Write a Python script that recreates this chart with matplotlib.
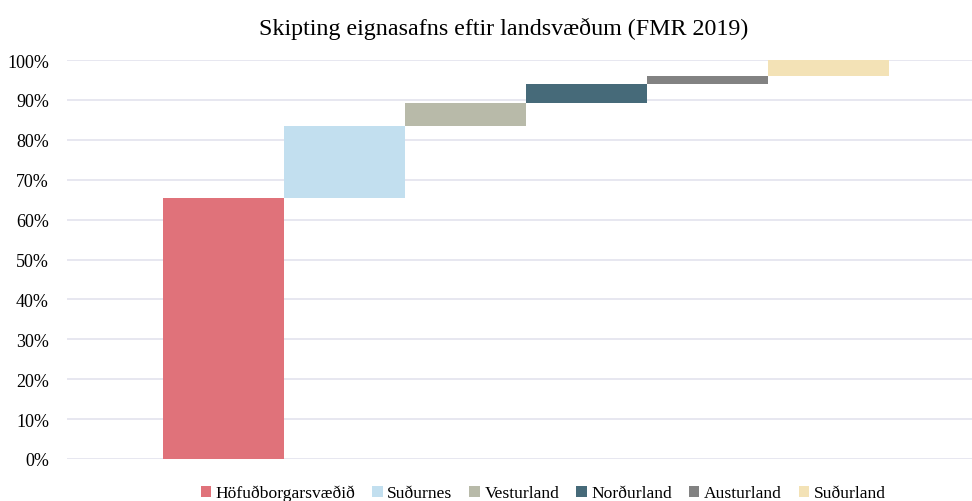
import numpy as np
import matplotlib.pyplot as plt

# Data
regions = ["Höfuðborgarsvæðið", "Suðurnes", "Vesturland", "Norðurland", "Austurland", "Suðurland"]
shares = [65.4, 18.0, 5.8, 4.8, 2.0, 4.0]
colors = ["#E0727A", "#C2DFEF", "#B8BAA9", "#466A79", "#828282", "#F3E2B6"]
yticks = [0, 10, 20, 30, 40, 50, 60, 70, 80, 90, 100]

plt.rcParams['font.family'] = ['Liberation Serif', 'DejaVu Serif']

vals = np.array(shares) / 100
bottoms = np.cumsum(vals) - vals
x = np.arange(len(regions))

fig = plt.figure(figsize=(9.72, 5.02), dpi=100)
ax = fig.add_axes([67 / 972, 1 - 460 / 502, (972 - 67) / 972, (460 - 61) / 502])

for i in range(len(regions)):
    ax.bar(x[i], vals[i], bottom=bottoms[i], width=1.0, color=colors[i], label=regions[i], zorder=3)

ax.set_ylim(0, 1.0)
ax.set_xlim(-1.29, 6.19)
ax.set_yticks([t / 100 for t in yticks])
ax.set_yticklabels([f"{t}%" for t in yticks], fontsize=13)
ax.set_xticks([])
ax.grid(axis='y', color='#E3E3EE', linewidth=1.2, zorder=0)
for s in ax.spines.values():
    s.set_visible(False)
ax.tick_params(axis='y', length=0, pad=13)

fig.text(504 / 972, 1 - 29 / 502, "Skipting eignasafns eftir landsvæðum (FMR 2019)",
         ha='center', va='center', fontsize=17.3)

fig.legend(loc='center', bbox_to_anchor=(543 / 972, 1 - 494 / 502), ncol=6, frameon=False,
           fontsize=12.6, handlelength=0.6, handleheight=0.6, handletextpad=0.25,
           columnspacing=0.97, borderpad=0)

fig.savefig("out.png", dpi=100)
